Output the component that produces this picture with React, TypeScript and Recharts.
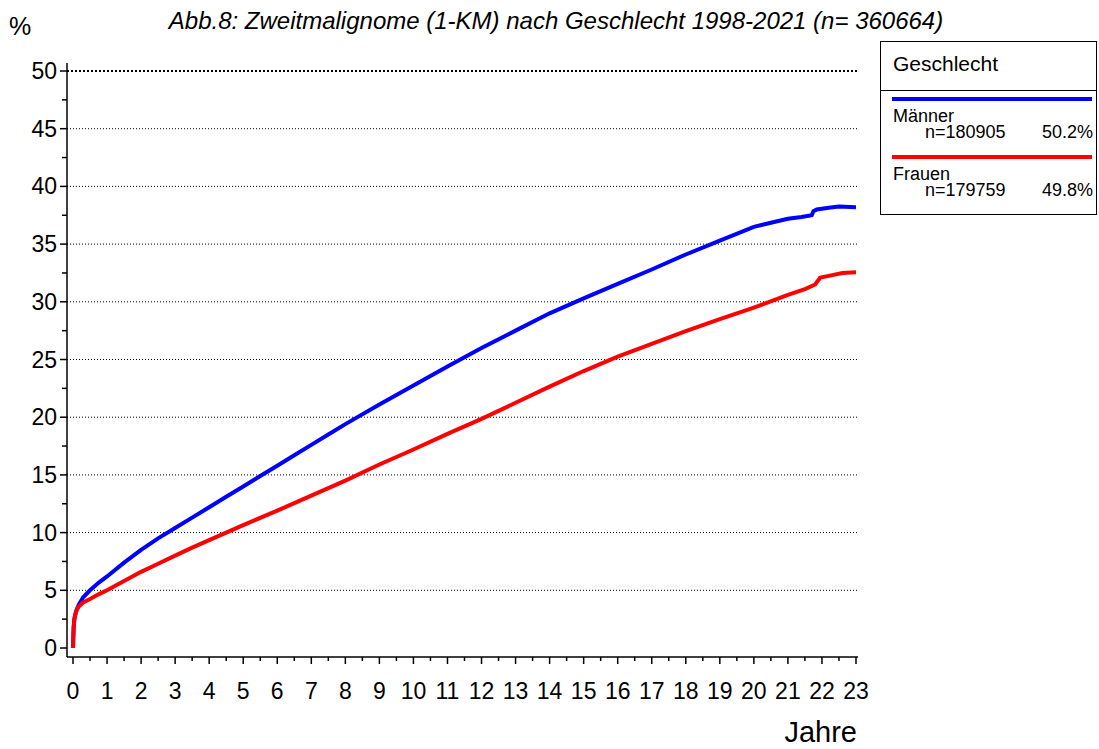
import { LineChart, Line, XAxis, YAxis, CartesianGrid, Legend, ReferenceLine } from 'recharts';

// Kaplan-Meier Kurven (kumulative Inzidenz Zweitmalignome, %)
const maennerJahre = [0, 0.01, 0.02, 0.04, 0.07, 0.11, 0.17, 0.3, 0.5, 0.75, 1, 1.5, 2, 2.5, 3, 3.5, 4, 4.5, 5, 5.5, 6, 6.5, 7, 7.5, 8, 9, 10, 11, 12, 13, 14, 15, 16, 17, 18, 19, 20, 20.5, 21, 21.4, 21.7, 21.75, 21.85, 22.2, 22.5, 23];
const maennerProzent = [0, 1.0, 1.8, 2.5, 2.95, 3.35, 3.75, 4.4, 5.0, 5.65, 6.2, 7.4, 8.5, 9.5, 10.4, 11.3, 12.2, 13.1, 14.0, 14.9, 15.8, 16.7, 17.6, 18.5, 19.4, 21.1, 22.75, 24.4, 26.0, 27.5, 29.0, 30.3, 31.55, 32.8, 34.1, 35.3, 36.5, 36.85, 37.2, 37.35, 37.5, 37.85, 38.0, 38.15, 38.25, 38.2];

const frauenJahre = [0, 0.01, 0.02, 0.04, 0.07, 0.11, 0.17, 0.3, 0.5, 0.75, 1, 1.5, 2, 2.5, 3, 3.5, 4, 4.5, 5, 6, 7, 8, 9, 10, 11, 12, 13, 14, 15, 16, 17, 18, 19, 20, 21, 21.5, 21.8, 21.95, 22.2, 22.6, 23];
const frauenProzent = [0, 1.0, 1.8, 2.5, 2.9, 3.3, 3.6, 3.95, 4.25, 4.65, 5.0, 5.8, 6.6, 7.3, 8.0, 8.7, 9.35, 10.0, 10.65, 11.9, 13.2, 14.5, 15.9, 17.2, 18.55, 19.85, 21.25, 22.65, 24.0, 25.25, 26.35, 27.45, 28.5, 29.5, 30.6, 31.1, 31.5, 32.1, 32.25, 32.5, 32.55];

const legendNamen = ['Männer', 'Frauen'];
const legendAnzahl = ['n=180905', 'n=179759'];
const legendAnteil = ['50.2%', '49.8%'];

const xTicks = Array.from({ length: 47 }, (_, i) => i / 2);
const yTicks = Array.from({ length: 21 }, (_, i) => i * 2.5);
const gridWerte = [5, 10, 15, 20, 25, 30, 35, 40, 45];

const FONT = '"Liberation Sans", Arial, sans-serif';

const maennerData = maennerJahre.map((t, i) => ({ t, v: maennerProzent[i] }));
const frauenData = frauenJahre.map((t, i) => ({ t, v: frauenProzent[i] }));

const XTick = (props: any) => {
    const { x, y, payload } = props;
    const major = Number.isInteger(payload.value);
    return (
        <g>
            <line x1={x} x2={x} y1={y} y2={y + (major ? 7 : 4)} stroke="#000" strokeWidth={1.5} />
            {major && (
                <text x={x} y={y + 42} textAnchor="middle" fontSize={23} fontFamily={FONT} fill="#000">
                    {payload.value}
                </text>
            )}
        </g>
    );
};

const YTick = (props: any) => {
    const { x, y, payload } = props;
    const major = payload.value % 5 === 0;
    return (
        <g>
            <line x1={x - (major ? 7 : 5)} x2={x} y1={y} y2={y} stroke="#000" strokeWidth={1.5} />
            {major && (
                <text x={x - 10} y={y + 8} textAnchor="end" fontSize={23} fontFamily={FONT} fill="#000">
                    {payload.value}
                </text>
            )}
        </g>
    );
};

const GeschlechtLegend = ({ payload }: any) => {
    const text = { position: 'absolute' as const, fontFamily: FONT, fontSize: 18, lineHeight: '18px', color: '#000', whiteSpace: 'nowrap' as const };
    const farbe = (name: string) => (payload || []).find((p: any) => p.value === name)?.color;
    return (
        <div style={{ position: 'relative', width: 217, height: 174, border: '1.5px solid #000', boxSizing: 'border-box', background: '#fff' }}>
            <div style={{ ...text, left: 12, top: 11, fontSize: 21, lineHeight: '21px' }}>Geschlecht</div>
            <div style={{ position: 'absolute', left: 0, right: 0, top: 48, borderTop: '1.5px solid #000' }} />
            {legendNamen.map((name, i) => {
                const off = i * 58;
                return (
                    <div key={name}>
                        <div style={{ position: 'absolute', left: 11, width: 200, top: 55 + off, height: 4, background: farbe(name) }} />
                        <div style={{ ...text, left: 12, top: 65 + off }}>{name}</div>
                        <div style={{ ...text, left: 44, top: 81 + off }}>{legendAnzahl[i]}</div>
                        <div style={{ ...text, right: 3, top: 81 + off }}>{legendAnteil[i]}</div>
                    </div>
                );
            })}
        </div>
    );
};

export default function App() {
    return (
        <div style={{ position: 'absolute', left: 0, top: 0, width: 1099, height: 749, background: '#fff', fontFamily: FONT }}>
            <div style={{ position: 'absolute', left: 9, top: 14, fontSize: 25, lineHeight: '25px' }}>%</div>
            <div style={{ position: 'absolute', left: 0, width: 1112, top: 9, textAlign: 'center', fontSize: 24, lineHeight: '24px', fontStyle: 'italic', whiteSpace: 'nowrap' }}>
                Abb.8: Zweitmalignome (1-KM) nach Geschlecht 1998-2021 (n= 360664)
            </div>
            <div style={{ position: 'absolute', left: 857, top: 718, transform: 'translateX(-100%)', fontSize: 29, lineHeight: '29px' }}>Jahre</div>
            <LineChart width={1099} height={749} margin={{ top: 63, left: 0, right: 241, bottom: 0 }}>
                <CartesianGrid horizontal vertical={false} horizontalValues={gridWerte} stroke="#000" strokeDasharray="1 2" />
                <ReferenceLine y={50} stroke="#000" strokeWidth={2} strokeDasharray="2 2" />
                <XAxis
                    type="number"
                    dataKey="t"
                    domain={[0, 23]}
                    ticks={xTicks}
                    interval={0}
                    height={92}
                    tickSize={0}
                    tickMargin={0}
                    tickLine={false}
                    tick={<XTick />}
                    padding={{ left: 6, right: 2 }}
                    axisLine={{ stroke: '#000', strokeWidth: 1.5 }}
                />
                <YAxis
                    type="number"
                    domain={[0, 50]}
                    ticks={yTicks}
                    interval={0}
                    width={67}
                    tickSize={0}
                    tickMargin={0}
                    tickLine={false}
                    tick={<YTick />}
                    padding={{ top: 8, bottom: 9 }}
                    axisLine={{ stroke: '#000', strokeWidth: 1.5 }}
                />
                <Legend
                    layout="horizontal"
                    verticalAlign="middle"
                    align="center"
                    content={<GeschlechtLegend />}
                    wrapperStyle={{ left: 880, top: 41, width: 217, height: 174 }}
                />
                <Line data={maennerData} dataKey="v" name="Männer" type="linear" stroke="#0000ff" strokeWidth={4} dot={false} isAnimationActive={false} />
                <Line data={frauenData} dataKey="v" name="Frauen" type="linear" stroke="#ff0000" strokeWidth={4} dot={false} isAnimationActive={false} />
            </LineChart>
        </div>
    );
}
